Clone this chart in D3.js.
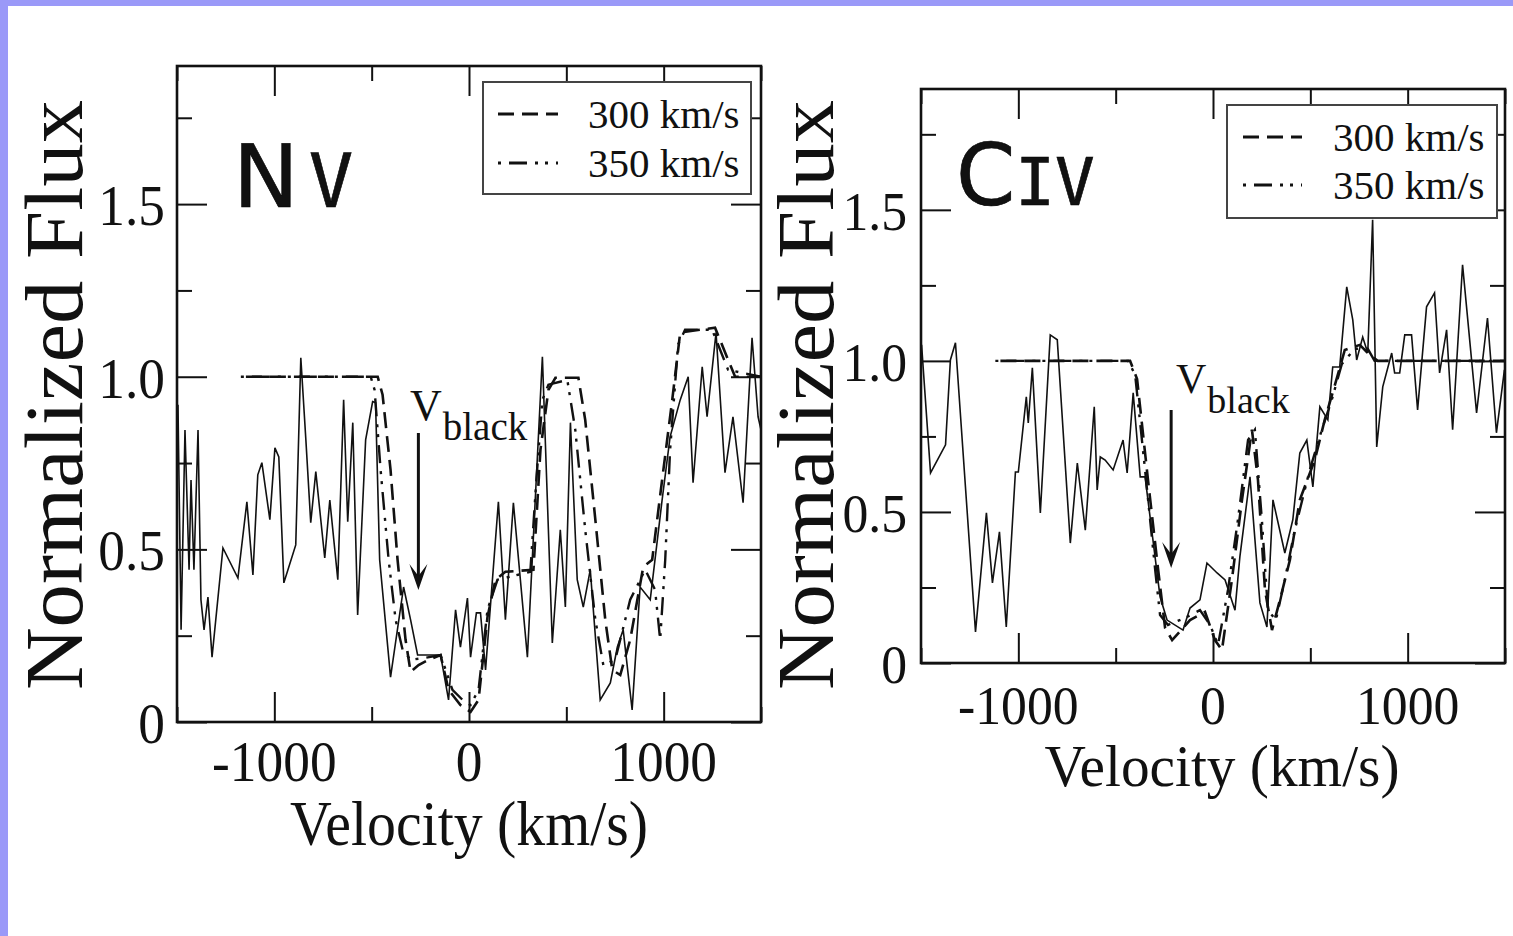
<!DOCTYPE html>
<html>
<head>
<meta charset="utf-8">
<script src="https://cdn.jsdelivr.net/npm/d3@7"></script>
<style>
  html, body { margin: 0; padding: 0; background: #fff; }
  svg { display: block; }
  text { font-family: "Liberation Serif", "Times New Roman", Times, serif; fill: #111; }
</style>
</head>
<body>
<svg id="fig" width="1513" height="936"></svg>
<script>
// ---------- data: N V line ----------
const nvObsVel  = [-1495,-1479,-1459,-1438,-1428,-1413,-1392,-1377,-1361,-1341,-1320,-1264,-1187,-1141,-1110,-1085,-1064,-1023,-997,-977,-951,-890,-864,-838,-813,-787,-741,-715,-674,-644,-623,-597,-572,-531,-495,-480,-459,-403,-336,-300,-264,-146,-105,-69,-44,-8,8,38,59,85,151,187,228,300,377,428,469,495,521,556,587,623,674,726,762,792,838,879,931,992,1033,1085,1126,1151,1198,1223,1269,1315,1356,1408,1454,1485,1500];
const nvObsFlux = [0.919,0.267,0.846,0.441,0.701,0.441,0.846,0.354,0.267,0.362,0.188,0.504,0.417,0.638,0.426,0.716,0.751,0.586,0.794,0.768,0.403,0.513,1.055,0.817,0.577,0.725,0.475,0.643,0.412,0.933,0.580,0.867,0.310,0.817,0.928,0.925,0.470,0.130,0.391,0.296,0.194,0.194,0.064,0.325,0.217,0.359,0.188,0.316,0.316,0.151,0.638,0.296,0.635,0.188,1.058,0.229,0.557,0.333,0.867,0.412,0.333,0.441,0.064,0.113,0.217,0.267,0.035,0.391,0.354,0.643,0.826,0.933,1.0,0.693,1.029,0.884,1.128,0.722,0.884,0.635,1.113,0.884,0.846];

const nv300Vel  = [-1146,-469,-444,-403,-367,-326,-300,-259,-208,-146,-105,-44,8,49,95,136,187,331,367,408,444,562,597,649,700,736,777,828,895,941,992,1044,1085,1264,1331,1367,1500];
const nv300Flux = [1.0,1.0,0.948,0.730,0.470,0.238,0.145,0.165,0.180,0.194,0.093,0.049,0.029,0.064,0.304,0.412,0.435,0.441,0.788,0.962,0.997,0.997,0.875,0.586,0.296,0.151,0.136,0.238,0.449,0.470,0.701,0.933,1.128,1.142,1.049,1.0,1.0];

const nv350Vel  = [-1172,-505,-485,-454,-413,-377,-341,-300,-223,-146,-85,-33,8,49,95,146,315,346,377,408,505,546,597,649,690,751,828,905,956,982,1008,1033,1074,1110,1249,1331,1500];
const nv350Flux = [1.0,1.0,0.962,0.730,0.470,0.296,0.209,0.180,0.186,0.194,0.093,0.064,0.049,0.093,0.325,0.412,0.435,0.701,0.933,0.977,0.991,0.846,0.557,0.296,0.165,0.180,0.354,0.441,0.383,0.238,0.470,0.788,1.093,1.136,1.136,1.020,1.0];

// ---------- data: C IV line ----------
const civObsVel  = [-1497,-1451,-1374,-1349,-1323,-1220,-1164,-1133,-1097,-1062,-1015,-1000,-959,-949,-928,-887,-836,-800,-733,-697,-656,-610,-595,-579,-554,-513,-462,-441,-410,-374,-349,-272,-236,-154,-118,-67,-31,21,62,113,138,190,241,277,308,369,410,446,482,513,549,590,615,651,687,718,738,769,795,820,841,872,918,933,959,985,1020,1051,1097,1138,1164,1200,1231,1282,1354,1410,1456,1497];
const civObsFlux = [1.053,0.629,0.722,1.003,1.060,0.103,0.497,0.265,0.434,0.119,0.632,0.632,0.881,0.795,0.977,0.497,1.086,1.070,0.397,0.662,0.440,0.848,0.573,0.682,0.672,0.639,0.738,0.629,0.894,0.616,0.616,0.219,0.142,0.109,0.182,0.209,0.331,0.298,0.275,0.175,0.351,0.616,0.199,0.119,0.540,0.364,0.474,0.695,0.738,0.583,0.848,0.805,0.980,0.980,1.245,1.136,1.003,1.079,1.026,1.467,0.715,0.914,1.026,0.960,0.960,1.086,1.086,0.838,1.179,1.225,0.960,1.103,0.772,1.318,0.828,1.142,0.762,0.970];

const civ300Vel  = [-1092,-426,-390,-333,-282,-246,-210,-118,-41,10,46,97,149,200,231,267,303,344,395,446,523,574,626,677,754,805,846,1500];
const civ300Flux = [1.0,1.0,0.94,0.60,0.31,0.116,0.076,0.142,0.169,0.076,0.043,0.275,0.540,0.772,0.606,0.242,0.109,0.209,0.341,0.540,0.672,0.805,0.920,1.036,1.053,1.020,1.0,1.0];

const civ350Vel  = [-1118,-436,-400,-349,-297,-272,-231,-144,-67,-15,26,77,128,180,215,251,282,323,369,420,497,559,610,662,728,795,830,1500];
const civ350Flux = [1.0,1.0,0.954,0.639,0.308,0.159,0.126,0.149,0.175,0.126,0.060,0.242,0.474,0.738,0.772,0.474,0.175,0.142,0.275,0.440,0.639,0.772,0.871,0.990,1.040,1.040,1.0,1.0];

// ---------- axes / text ----------
const velDomain  = [-1500, 1500];
const fluxDomain = [0, 1.9];
const xMajor = [-1000, 0, 1000];
const xMajorLabels = ["-1000", "0", "1000"];
const xMinor = [-1500, -500, 500, 1500];
const yMajor = [0, 0.5, 1.0, 1.5];
const yMajorLabels = ["0", "0.5", "1.0", "1.5"];
const yMinor = [0.25, 0.75, 1.25, 1.75];
const legendLabels = ["300 km/s", "350 km/s"];
const xTitle = "Velocity (km/s)";
const yTitle = "Normalized Flux";

// ---------- drawing ----------
const svg = d3.select("#fig");
svg.append("rect").attr("width", 1513).attr("height", 936).attr("fill", "#fff");
// slide frame strips
svg.append("rect").attr("x", 0).attr("y", 0).attr("width", 1513).attr("height", 6).attr("fill", "#9a99f8");
svg.append("rect").attr("x", 0).attr("y", 0).attr("width", 8).attr("height", 936).attr("fill", "#9a99f8");

const dash300 = "16,8";
const dash350 = "3,8,18,8,3,7";

function stretchedText(g, str, x, y, size, sx, anchor) {
  return g.append("text")
    .attr("transform", `translate(${x},${y}) scale(${sx},1)`)
    .attr("text-anchor", anchor)
    .attr("font-size", size)
    .text(str);
}

function drawPanel(p) {
  const x = d3.scaleLinear().domain(velDomain).range([p.left, p.right]);
  const y = d3.scaleLinear().domain(fluxDomain).range([p.bottom, p.top]);
  const g = svg.append("g");

  g.append("clipPath").attr("id", p.id + "-clip")
    .append("rect").attr("x", p.left).attr("y", p.top)
    .attr("width", p.right - p.left).attr("height", p.bottom - p.top);

  const line = d3.line().x(d => x(d[0])).y(d => y(d[1]));
  const plot = g.append("g").attr("clip-path", `url(#${p.id}-clip)`);

  plot.append("path").datum(d3.zip(p.m300v, p.m300f)).attr("d", line)
    .attr("fill", "none").attr("stroke", "#111").attr("stroke-width", 2.6)
    .attr("stroke-dasharray", dash300);
  plot.append("path").datum(d3.zip(p.m350v, p.m350f)).attr("d", line)
    .attr("fill", "none").attr("stroke", "#111").attr("stroke-width", 2.4)
    .attr("stroke-dasharray", dash350);
  plot.append("path").datum(d3.zip(p.obsV, p.obsF)).attr("d", line)
    .attr("fill", "none").attr("stroke", "#111").attr("stroke-width", 1.6)
    .attr("stroke-linejoin", "miter");

  // inward ticks on all four sides
  const tickSet = (axisGen, pos, values, len) => {
    g.append("g").attr("transform", pos)
      .call(axisGen.tickValues(values).tickSize(-len).tickFormat(""))
      .call(a => a.select(".domain").remove())
      .selectAll("line").attr("stroke", "#111").attr("stroke-width", 2);
  };
  [[xMajor, p.major], [xMinor, p.minor]].forEach(([vals, len]) => {
    tickSet(d3.axisBottom(x), `translate(0,${p.bottom})`, vals, len);
    tickSet(d3.axisTop(x), `translate(0,${p.top})`, vals, len);
  });
  [[yMajor, p.major], [yMinor, p.minor]].forEach(([vals, len]) => {
    tickSet(d3.axisLeft(y), `translate(${p.left},0)`, vals, len);
    tickSet(d3.axisRight(y), `translate(${p.right},0)`, vals, len);
  });

  g.append("rect").attr("x", p.left).attr("y", p.top)
    .attr("width", p.right - p.left).attr("height", p.bottom - p.top)
    .attr("fill", "none").attr("stroke", "#111").attr("stroke-width", 2.6);

  // tick labels
  yMajor.forEach((v, i) => stretchedText(g, yMajorLabels[i], p.left - p.yLabGap, y(v) + p.yLabShift, p.tickFont, p.tickSx, "end"));
  xMajor.forEach((v, i) => stretchedText(g, xMajorLabels[i], x(v), p.bottom + p.xLabShift, p.tickFont, p.tickSx, "middle"));

  // axis titles
  g.append("text").attr("x", x(0) + p.xTitleDx).attr("y", p.xTitleY)
    .attr("text-anchor", "middle").attr("font-size", p.xTitleFont)
    .attr("textLength", p.xTitleLen).attr("lengthAdjust", "spacingAndGlyphs")
    .text(xTitle);
  g.append("text")
    .attr("transform", `translate(${p.yTitleX},${p.yTitleY}) rotate(-90)`)
    .attr("text-anchor", "middle").attr("font-size", p.yTitleFont)
    .attr("textLength", p.yTitleLen).attr("lengthAdjust", "spacingAndGlyphs")
    .text(yTitle);

  // legend
  const L = p.legend;
  g.append("rect").attr("x", L.x).attr("y", L.y).attr("width", L.w).attr("height", L.h)
    .attr("fill", "#fff").attr("stroke", "#444").attr("stroke-width", 2);
  [dash300, dash350].forEach((dash, i) => {
    const ly = L.y + L.row0 + i * L.rowGap;
    g.append("line").attr("x1", L.x + L.lineX0).attr("x2", L.x + L.lineX1)
      .attr("y1", ly).attr("y2", ly)
      .attr("stroke", "#111").attr("stroke-width", 3).attr("stroke-dasharray", dash);
    g.append("text").attr("x", L.x + L.textX).attr("y", ly + L.textDy)
      .attr("font-size", L.font).text(legendLabels[i]);
  });

  // ion label: capital letter followed by small-capital roman numeral
  const ion = g.append("text").attr("x", p.ion.x).attr("y", p.ion.y)
    .attr("stroke", "#000").attr("stroke-width", 0.6).attr("fill", "#000");
  ion.append("tspan").style("font-family", '"DejaVu Sans", sans-serif')
    .attr("font-size", p.ion.big).text(p.ion.head);
  ion.append("tspan").style("font-family", '"DejaVu Sans Mono", monospace')
    .attr("font-size", p.ion.small).attr("dx", p.ion.dx).text(p.ion.tail);

  // v_black marker
  const vb = p.vblack;
  const ax = x(vb.vel);
  const t = g.append("text").attr("x", vb.tx).attr("y", vb.ty).attr("font-size", vb.font);
  t.append("tspan").text("V");
  t.append("tspan").attr("font-size", vb.subFont).attr("dy", vb.subDy).attr("dx", 1).text("black");
  g.append("line").attr("x1", ax).attr("x2", ax).attr("y1", vb.y0).attr("y2", vb.y1 - 12)
    .attr("stroke", "#111").attr("stroke-width", 3);
  g.append("path")
    .attr("d", `M${ax},${vb.y1} L${ax - 9},${vb.y1 - 26} L${ax},${vb.y1 - 14} L${ax + 9},${vb.y1 - 26} Z`)
    .attr("fill", "#111");
}

drawPanel({
  id: "nv", left: 177, right: 761, top: 66, bottom: 722, major: 30, minor: 15,
  obsV: nvObsVel, obsF: nvObsFlux, m300v: nv300Vel, m300f: nv300Flux, m350v: nv350Vel, m350f: nv350Flux,
  tickFont: 58, tickSx: 0.92, yLabGap: 12, yLabShift: 21, xLabShift: 59,
  xTitleDx: 0, xTitleY: 845, xTitleFont: 63, xTitleLen: 358,
  yTitleX: 82, yTitleY: 395, yTitleFont: 82, yTitleLen: 590,
  legend: { x: 483, y: 82, w: 268, h: 112, row0: 32, rowGap: 49, lineX0: 15, lineX1: 75, textX: 105, textDy: 14, font: 41 },
  ion: { x: 233, y: 207, head: "N", tail: "V", big: 88, small: 74, dx: 10 },
  vblack: { vel: -260, tx: 410, ty: 420, font: 44, subFont: 39, subDy: 20, y0: 433, y1: 590 }
});

drawPanel({
  id: "civ", left: 921, right: 1505, top: 89, bottom: 663, major: 30, minor: 15,
  obsV: civObsVel, obsF: civObsFlux, m300v: civ300Vel, m300f: civ300Flux, m350v: civ350Vel, m350f: civ350Flux,
  tickFont: 55, tickSx: 0.94, yLabGap: 14, yLabShift: 20, xLabShift: 61,
  xTitleDx: 9, xTitleY: 786, xTitleFont: 59, xTitleLen: 355,
  yTitleX: 833, yTitleY: 395, yTitleFont: 80, yTitleLen: 590,
  legend: { x: 1227, y: 105, w: 270, h: 113, row0: 32, rowGap: 48, lineX0: 16, lineX1: 75, textX: 106, textDy: 14, font: 41 },
  ion: { x: 956, y: 205, head: "C", tail: "IV", big: 85, small: 66, dx: 0 },
  vblack: { vel: -215, tx: 1176, ty: 393, font: 42, subFont: 38, subDy: 20, y0: 410, y1: 568 }
});
</script>
</body>
</html>
